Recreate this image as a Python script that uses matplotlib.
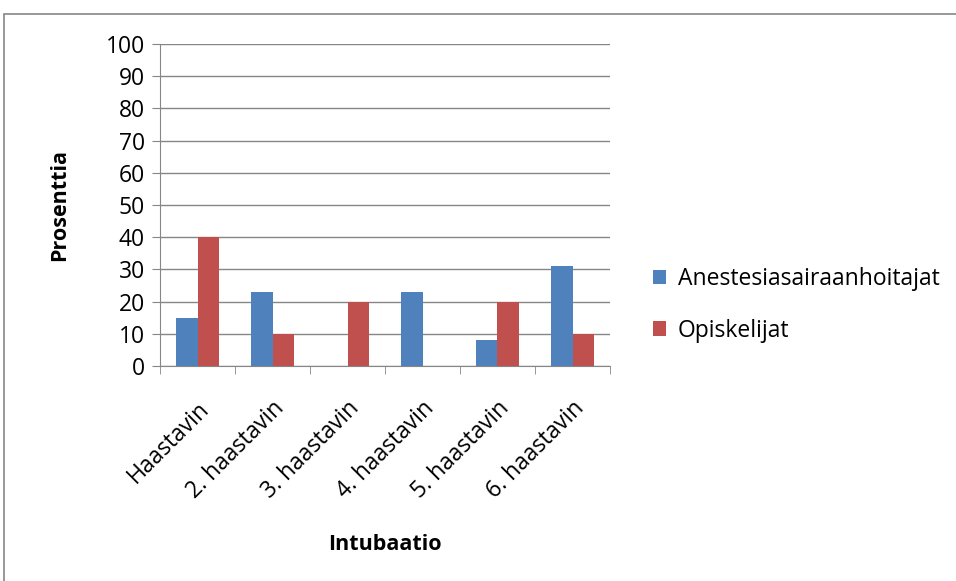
import matplotlib
matplotlib.use("Agg")
import matplotlib.pyplot as plt
import numpy as np
from matplotlib.patches import Rectangle

categories = ["Haastavin", "2. haastavin", "3. haastavin", "4. haastavin", "5. haastavin", "6. haastavin"]
anestesia = [15, 23, 0, 23, 8, 31]
opiskelijat = [40, 10, 20, 0, 20, 10]
series_names = ["Anestesiasairaanhoitajat", "Opiskelijat"]
y_ticks = [0, 10, 20, 30, 40, 50, 60, 70, 80, 90, 100]

plt.rcParams['font.family'] = ['Open Sans', 'DejaVu Sans']
grey = '#868686'
fs = 16.5

fig = plt.figure(figsize=(9.56, 5.81), dpi=100)
ax = fig.add_axes([160/956, 1 - 366/581, 450/956, 322/581])

x = np.arange(len(categories))
w = 0.293
b1 = ax.bar(x - w/2, anestesia, w, color='#4F81BD', label=series_names[0], zorder=3)
b2 = ax.bar(x + w/2, opiskelijat, w, color='#C0504D', label=series_names[1], zorder=3)

ax.set_xlim(-0.5, len(categories) - 0.5)
ax.set_ylim(0, 100)
ax.set_yticks(y_ticks)
ax.yaxis.grid(True, color=grey, lw=1, zorder=0)

ax.set_xticks(x)
ax.set_xticklabels(categories, rotation=45, ha='right', va='top', rotation_mode='anchor', fontsize=fs)
ax.set_xticks(np.arange(-0.5, len(categories)), minor=True)
ax.tick_params(axis='x', which='major', length=0, pad=22)
ax.tick_params(axis='x', which='minor', length=6, color=grey, direction='out')
ax.tick_params(axis='y', length=6, color=grey, labelsize=fs, pad=5)

for s in ['top', 'right']:
    ax.spines[s].set_visible(False)
for s in ['left', 'bottom']:
    ax.spines[s].set_color(grey)

fig.text(60/956, 1 - 205/581, "Prosenttia", fontsize=15.5, fontweight='bold',
         rotation=90, ha='center', va='center')
fig.text(385/956, 1 - 545/581, "Intubaatio", fontsize=15.5, fontweight='bold', ha='center', va='center')

fig.legend(handles=[b1, b2], loc='center left', bbox_to_anchor=(632/956, 1 - 305/581),
           frameon=False, fontsize=fs, handlelength=0.6, handleheight=0.6,
           handletextpad=0.5, labelspacing=1.2)

fig.patches.append(Rectangle((4/956, -0.1), 1.2, (581 - 14)/581 + 0.1, transform=fig.transFigure,
                             fill=False, edgecolor=grey, lw=1.2))

fig.savefig("out.png", dpi=100)
